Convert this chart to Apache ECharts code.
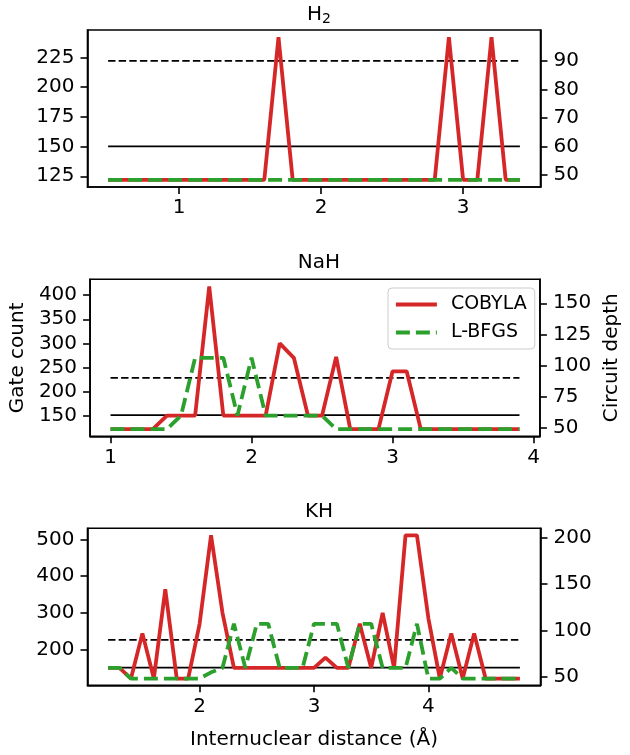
<!DOCTYPE html>
<html>
<head>
<meta charset="utf-8">
<script src="https://cdn.jsdelivr.net/npm/echarts@6/dist/echarts.min.js"></script>
<style>
html,body{margin:0;padding:0;background:#fff;}
#c{width:630px;height:755px;}
</style>
</head>
<body>
<div id="c"></div>
<script>
// ---------------- data ----------------
const titles = ['H', 'NaH', 'KH'];
const seriesNames = ['COBYLA', 'L-BFGS'];

// H2
const h2X = [0.5,0.6,0.7,0.8,0.9,1.0,1.1,1.2,1.3,1.4,1.5,1.6,1.7,1.8,1.9,2.0,2.1,2.2,2.3,2.4,2.5,2.6,2.7,2.8,2.9,3.0,3.1,3.2,3.3,3.4];
const h2Cobyla = [122,122,122,122,122,122,122,122,122,122,122,122,242,122,122,122,122,122,122,122,122,122,122,122,242,122,122,242,122,122];
const h2Lbfgs  = [122,122,122,122,122,122,122,122,122,122,122,122,122,122,122,122,122,122,122,122,122,122,122,122,122,122,122,122,122,122];

// NaH
const nahX = [1.0,1.1,1.2,1.3,1.4,1.5,1.6,1.7,1.8,1.9,2.0,2.1,2.2,2.3,2.4,2.5,2.6,2.7,2.8,2.9,3.0,3.1,3.2,3.3,3.4,3.5,3.6,3.7,3.8,3.9];
const nahCobyla = [122,122,122,122,150,150,150,418,150,150,150,150,300,270,150,150,272,122,122,122,242,242,122,122,122,122,122,122,122,122];
const nahLbfgs  = [122,122,122,122,122,150,270,270,270,150,270,150,150,150,150,150,122,122,122,122,122,122,122,122,122,122,122,122,122,122];

// KH
const khX = [1.2,1.3,1.4,1.5,1.6,1.7,1.8,1.9,2.0,2.1,2.2,2.3,2.4,2.5,2.6,2.7,2.8,2.9,3.0,3.1,3.2,3.3,3.4,3.5,3.6,3.7,3.8,3.9,4.0,4.1,4.2,4.3,4.4,4.5,4.6,4.7,4.8];
const khCobyla = [150,150,121,244,121,364,121,121,270,511,300,150,150,150,150,150,150,150,150,178,150,150,270,150,300,150,511,511,285,121,244,121,244,121,121,121,121];
const khLbfgs  = [150,150,121,121,121,121,121,121,121,138,150,270,150,270,270,150,150,150,270,270,270,150,270,270,150,150,150,270,121,121,150,121,121,121,121,121,121];

// reference depths (right axis)
const refSolid = 60;
const refDashed = 90;

// tick labels
const xTicks = [[1,2,3],[1,2,3,4],[2,3,4]];
const leftTicks = [[125,150,175,200,225],[150,200,250,300,350,400],[200,300,400,500]];
const rightTicks = [[50,60,70,80,90],[50,75,100,125,150],[50,100,150,200]];

// ---------------- layout ----------------
const xRanges = [[0.355,3.545],[0.855,4.045],[1.02,4.98]];
const leftRanges = [[116,248],[107,433],[102.7,530]];
const rightRanges = [[45.8,100.8],[43,169.3],[41,210]];
const gridTops = [30, 279.3, 528.3];
const GL = 87.5, GW = 453, GH = 157;
const FONT = 'DejaVu Sans';
const FS = 20;

const allX = [h2X, nahX, khX];
const allC = [h2Cobyla, nahCobyla, khCobyla];
const allL = [h2Lbfgs, nahLbfgs, khLbfgs];

const zip = (xs, ys) => xs.map((x, i) => [x, ys[i]]);

const grid = [], xAxis = [], yAxis = [], series = [], title = [];
for (let i = 0; i < 3; i++) {
  grid.push({left: GL, top: gridTops[i], width: GW, height: GH, show: true,
    borderColor: '#000', borderWidth: 1.6, backgroundColor: 'transparent', containLabel: false});
  xAxis.push({type: 'value', gridIndex: i, min: xRanges[i][0], max: xRanges[i][1],
    axisLine: {show: true, onZero: false, lineStyle: {color: '#000', width: 1.6}},
    axisTick: {show: true, length: 7, inside: false, customValues: xTicks[i], lineStyle: {color: '#000', width: 1.6}},
    axisLabel: {show: true, customValues: xTicks[i], margin: 11, fontSize: FS, fontFamily: FONT, color: '#000'},
    splitLine: {show: false},
    name: i === 2 ? 'Internuclear distance (Å)' : '',
    nameLocation: 'middle', nameGap: 44,
    nameTextStyle: {fontSize: FS, fontFamily: FONT, color: '#000'}
  });
  yAxis.push({type: 'value', gridIndex: i, position: 'left', min: leftRanges[i][0], max: leftRanges[i][1],
    axisLine: {show: true, onZero: false, lineStyle: {color: '#000', width: 1.6}},
    axisTick: {show: true, length: 7, customValues: leftTicks[i], lineStyle: {color: '#000', width: 1.6}},
    axisLabel: {show: true, customValues: leftTicks[i], margin: 13, fontSize: FS, fontFamily: FONT, color: '#000'},
    splitLine: {show: false},
    name: i === 1 ? 'Gate count' : '', nameLocation: 'middle', nameGap: 62, nameRotate: 90,
    nameTextStyle: {fontSize: FS, fontFamily: FONT, color: '#000'}
  });
  yAxis.push({type: 'value', gridIndex: i, position: 'right', min: rightRanges[i][0], max: rightRanges[i][1],
    axisLine: {show: true, onZero: false, lineStyle: {color: '#000', width: 1.6}},
    axisTick: {show: true, length: 7, customValues: rightTicks[i], lineStyle: {color: '#000', width: 1.6}},
    axisLabel: {show: true, customValues: rightTicks[i], margin: 13, fontSize: FS, fontFamily: FONT, color: '#000'},
    splitLine: {show: false},
    name: i === 1 ? 'Circuit depth' : '', nameLocation: 'middle', nameGap: 62, nameRotate: 90,
    nameTextStyle: {fontSize: FS, fontFamily: FONT, color: '#000'}
  });
  const xs = allX[i];
  const x0 = xs[0], x1 = xs[xs.length - 1];
  series.push({type: 'line', xAxisIndex: i, yAxisIndex: 2 * i + 1, symbol: 'none', z: 1, silent: true,
    data: [[x0, refSolid], [x1, refSolid]], lineStyle: {color: '#000', width: 1.8, type: 'solid'}});
  series.push({type: 'line', xAxisIndex: i, yAxisIndex: 2 * i + 1, symbol: 'none', z: 1, silent: true,
    data: [[x0, refDashed], [x1, refDashed]], lineStyle: {color: '#000', width: 1.8, type: [7.4, 3.2]}});
  series.push({name: seriesNames[0], type: 'line', xAxisIndex: i, yAxisIndex: 2 * i, symbol: 'none', z: 3,
    data: zip(xs, allC[i]), lineStyle: {color: '#d62728', width: 3.8}, itemStyle: {color: '#d62728'}});
  series.push({name: seriesNames[1], type: 'line', xAxisIndex: i, yAxisIndex: 2 * i, symbol: 'none', z: 4,
    data: zip(xs, allL[i]), lineStyle: {color: '#2ca02c', width: 3.8, type: [14, 6]}, itemStyle: {color: '#2ca02c'}});
  title.push({
    text: i === 0 ? 'H{s|2}' : titles[i],
    left: GL + GW / 2, textAlign: 'center', top: gridTops[i] - 32,
    textStyle: {fontSize: FS, fontWeight: 'normal', fontFamily: FONT, color: '#000',
      rich: {s: {fontSize: 14, fontFamily: FONT, color: '#000', padding: [9, 0, 0, 0]}}}
  });
}

const chart = echarts.init(document.getElementById('c'), null, {renderer: 'canvas'});
chart.setOption({
  animation: false,
  backgroundColor: '#fff',
  title: title,
  grid: grid,
  xAxis: xAxis,
  yAxis: yAxis,
  legend: {
    data: seriesNames, orient: 'vertical', left: 388, top: 288,
    itemWidth: 41, itemHeight: 14, itemGap: 9,
    padding: [7, 8, 7, 6],
    borderColor: '#cccccc', borderWidth: 1, borderRadius: 4,
    backgroundColor: 'rgba(255,255,255,0.8)',
    itemStyle: {opacity: 0, borderWidth: 0},
    lineStyle: {width: 3.8},
    textStyle: {fontSize: 19, fontFamily: FONT, color: '#000', padding: [0, 0, 0, 9]}
  },
  series: series
});
</script>
</body>
</html>
